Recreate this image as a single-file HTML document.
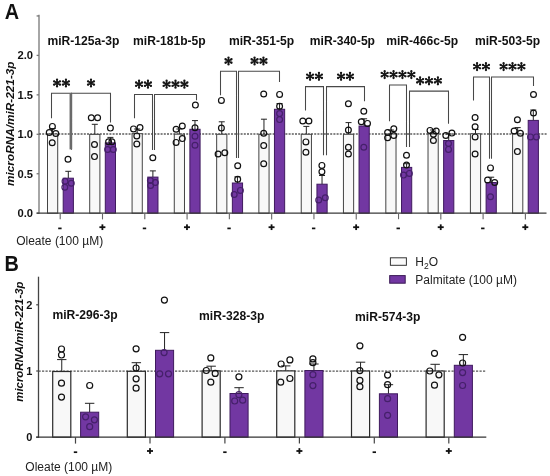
<!DOCTYPE html>
<html><head><meta charset="utf-8"><style>
html,body{margin:0;padding:0;background:#fff;width:550px;height:476px;overflow:hidden;}
svg{display:block;filter:blur(0.3px);font-family:"Liberation Sans",sans-serif;}
</style></head><body>
<svg width="550" height="476" viewBox="0 0 550 476" font-family="Liberation Sans, sans-serif">
<rect width="550" height="476" fill="#fff"/>
<text x="5.22" y="18.9" font-size="21.6" font-weight="bold" text-anchor="start"  fill="#111" transform="scale(0.92,1)">A</text>
<line x1="39" y1="14.8" x2="39" y2="213.8" stroke="#888" stroke-width="1.5" />
<line x1="36.6" y1="213.2" x2="39" y2="213.2" stroke="#777" stroke-width="1.3" />
<line x1="36.6" y1="173.75" x2="39" y2="173.75" stroke="#777" stroke-width="1.3" />
<line x1="36.6" y1="134.3" x2="39" y2="134.3" stroke="#777" stroke-width="1.3" />
<line x1="36.6" y1="94.85" x2="39" y2="94.85" stroke="#777" stroke-width="1.3" />
<line x1="36.6" y1="55.4" x2="39" y2="55.4" stroke="#777" stroke-width="1.3" />
<line x1="36.6" y1="15.95" x2="39" y2="15.95" stroke="#777" stroke-width="1.3" />
<text x="33" y="217.15" font-size="11.2" font-weight="bold" text-anchor="end"  fill="#111" >0.0</text>
<text x="33" y="177.7" font-size="11.2" font-weight="bold" text-anchor="end"  fill="#111" >0.5</text>
<text x="33" y="138.25" font-size="11.2" font-weight="bold" text-anchor="end"  fill="#111" >1.0</text>
<text x="33" y="98.8" font-size="11.2" font-weight="bold" text-anchor="end"  fill="#111" >1.5</text>
<text x="33" y="59.35" font-size="11.2" font-weight="bold" text-anchor="end"  fill="#111" >2.0</text>
<text x="0" y="0" font-size="11.8" font-weight="bold" text-anchor="middle" font-style="italic" fill="#111" transform="translate(14,123.7) rotate(-90)">microRNA/miR-221-3p</text>
<line x1="39" y1="134" x2="547.5" y2="134" stroke="#5c5c5c" stroke-width="1.5" stroke-dasharray="2 1.2"/>
<line x1="52.6" y1="134" x2="52.6" y2="128.5" stroke="#222" stroke-width="1" />
<line x1="49.6" y1="128.5" x2="55.6" y2="128.5" stroke="#222" stroke-width="1" />
<rect x="47.5" y="134" width="10.2" height="79.2" fill="#f8f8f8" stroke="#444" stroke-width="1"/>
<circle cx="52.4" cy="126.4" r="2.9" fill="none" stroke="#111" stroke-width="1.2"/>
<circle cx="49.25" cy="132.5" r="2.9" fill="none" stroke="#111" stroke-width="1.2"/>
<circle cx="55.8" cy="133.5" r="2.9" fill="none" stroke="#111" stroke-width="1.2"/>
<circle cx="52.2" cy="142.7" r="2.9" fill="none" stroke="#111" stroke-width="1.2"/>
<line x1="68.3" y1="178.2" x2="68.3" y2="171.3" stroke="#222" stroke-width="1" />
<line x1="65.3" y1="171.3" x2="71.3" y2="171.3" stroke="#222" stroke-width="1" />
<rect x="63.2" y="178.2" width="10.2" height="35" fill="#7237a2" stroke="#3f1a5e" stroke-width="1"/>
<circle cx="68" cy="159.3" r="2.9" fill="none" stroke="#111" stroke-width="1.2"/>
<circle cx="65" cy="181.3" r="2.9" fill="none" stroke="#45206a" stroke-width="1.2"/>
<circle cx="71.3" cy="183.3" r="2.9" fill="none" stroke="#45206a" stroke-width="1.2"/>
<circle cx="64.8" cy="187.2" r="2.9" fill="none" stroke="#45206a" stroke-width="1.2"/>
<line x1="94.8" y1="134.4" x2="94.8" y2="124.3" stroke="#222" stroke-width="1" />
<line x1="91.8" y1="124.3" x2="97.8" y2="124.3" stroke="#222" stroke-width="1" />
<rect x="89.7" y="134.4" width="10.2" height="78.8" fill="#f8f8f8" stroke="#444" stroke-width="1"/>
<circle cx="91.3" cy="117.7" r="2.9" fill="none" stroke="#111" stroke-width="1.2"/>
<circle cx="97.6" cy="117.7" r="2.9" fill="none" stroke="#111" stroke-width="1.2"/>
<circle cx="94.5" cy="144.5" r="2.9" fill="none" stroke="#111" stroke-width="1.2"/>
<circle cx="94.5" cy="156.6" r="2.9" fill="none" stroke="#111" stroke-width="1.2"/>
<line x1="110.4" y1="142.9" x2="110.4" y2="137.4" stroke="#222" stroke-width="1" />
<line x1="107.4" y1="137.4" x2="113.4" y2="137.4" stroke="#222" stroke-width="1" />
<rect x="105.3" y="142.9" width="10.2" height="70.3" fill="#7237a2" stroke="#3f1a5e" stroke-width="1"/>
<circle cx="110.4" cy="128.1" r="2.9" fill="none" stroke="#111" stroke-width="1.2"/>
<circle cx="108.6" cy="141.7" r="2.9" fill="none" stroke="#111" stroke-width="1.2"/>
<circle cx="111.9" cy="141.7" r="2.9" fill="none" stroke="#111" stroke-width="1.2"/>
<circle cx="107.6" cy="149.5" r="2.9" fill="none" stroke="#45206a" stroke-width="1.2"/>
<circle cx="113.3" cy="149.5" r="2.9" fill="none" stroke="#45206a" stroke-width="1.2"/>
<line x1="137.18" y1="133.7" x2="137.18" y2="129" stroke="#222" stroke-width="1" />
<line x1="134.18" y1="129" x2="140.18" y2="129" stroke="#222" stroke-width="1" />
<rect x="132.08" y="133.7" width="10.2" height="79.5" fill="#f8f8f8" stroke="#444" stroke-width="1"/>
<circle cx="133.5" cy="128.9" r="2.9" fill="none" stroke="#111" stroke-width="1.2"/>
<circle cx="140" cy="127.6" r="2.9" fill="none" stroke="#111" stroke-width="1.2"/>
<circle cx="136.8" cy="135.9" r="2.9" fill="none" stroke="#111" stroke-width="1.2"/>
<circle cx="136.8" cy="144" r="2.9" fill="none" stroke="#111" stroke-width="1.2"/>
<line x1="152.88" y1="177.1" x2="152.88" y2="170.9" stroke="#222" stroke-width="1" />
<line x1="149.88" y1="170.9" x2="155.88" y2="170.9" stroke="#222" stroke-width="1" />
<rect x="147.78" y="177.1" width="10.2" height="36.1" fill="#7237a2" stroke="#3f1a5e" stroke-width="1"/>
<circle cx="152.8" cy="157.8" r="2.9" fill="none" stroke="#111" stroke-width="1.2"/>
<circle cx="150.4" cy="180.5" r="2.9" fill="none" stroke="#45206a" stroke-width="1.2"/>
<circle cx="155.3" cy="182.5" r="2.9" fill="none" stroke="#45206a" stroke-width="1.2"/>
<circle cx="150.6" cy="185.5" r="2.9" fill="none" stroke="#45206a" stroke-width="1.2"/>
<line x1="179.38" y1="134.2" x2="179.38" y2="129" stroke="#222" stroke-width="1" />
<line x1="176.38" y1="129" x2="182.38" y2="129" stroke="#222" stroke-width="1" />
<rect x="174.28" y="134.2" width="10.2" height="79" fill="#f8f8f8" stroke="#444" stroke-width="1"/>
<circle cx="176.1" cy="129.3" r="2.9" fill="none" stroke="#111" stroke-width="1.2"/>
<circle cx="182.3" cy="126" r="2.9" fill="none" stroke="#111" stroke-width="1.2"/>
<circle cx="182.3" cy="138.6" r="2.9" fill="none" stroke="#111" stroke-width="1.2"/>
<circle cx="176.1" cy="142.4" r="2.9" fill="none" stroke="#111" stroke-width="1.2"/>
<line x1="194.98" y1="129.3" x2="194.98" y2="120.6" stroke="#222" stroke-width="1" />
<line x1="191.98" y1="120.6" x2="197.98" y2="120.6" stroke="#222" stroke-width="1" />
<rect x="189.88" y="129.3" width="10.2" height="83.9" fill="#7237a2" stroke="#3f1a5e" stroke-width="1"/>
<circle cx="195.4" cy="105.1" r="2.9" fill="none" stroke="#111" stroke-width="1.2"/>
<circle cx="195" cy="127.7" r="2.9" fill="none" stroke="#111" stroke-width="1.2"/>
<circle cx="195" cy="136.2" r="2.9" fill="none" stroke="#45206a" stroke-width="1.2"/>
<circle cx="195" cy="145.2" r="2.9" fill="none" stroke="#45206a" stroke-width="1.2"/>
<line x1="221.76" y1="134.3" x2="221.76" y2="121.8" stroke="#222" stroke-width="1" />
<line x1="218.76" y1="121.8" x2="224.76" y2="121.8" stroke="#222" stroke-width="1" />
<rect x="216.66" y="134.3" width="10.2" height="78.9" fill="#f8f8f8" stroke="#444" stroke-width="1"/>
<circle cx="221.4" cy="100.4" r="2.9" fill="none" stroke="#111" stroke-width="1.2"/>
<circle cx="221.4" cy="128.1" r="2.9" fill="none" stroke="#111" stroke-width="1.2"/>
<circle cx="218.1" cy="154" r="2.9" fill="none" stroke="#111" stroke-width="1.2"/>
<circle cx="224.8" cy="152.8" r="2.9" fill="none" stroke="#111" stroke-width="1.2"/>
<line x1="237.46" y1="183" x2="237.46" y2="176.8" stroke="#222" stroke-width="1" />
<line x1="234.46" y1="176.8" x2="240.46" y2="176.8" stroke="#222" stroke-width="1" />
<rect x="232.36" y="183" width="10.2" height="30.2" fill="#7237a2" stroke="#3f1a5e" stroke-width="1"/>
<circle cx="237.7" cy="165.7" r="2.9" fill="none" stroke="#111" stroke-width="1.2"/>
<circle cx="237.7" cy="179.2" r="2.9" fill="none" stroke="#111" stroke-width="1.2"/>
<circle cx="234.2" cy="194.5" r="2.9" fill="none" stroke="#45206a" stroke-width="1.2"/>
<circle cx="240.4" cy="190.4" r="2.9" fill="none" stroke="#45206a" stroke-width="1.2"/>
<line x1="263.96" y1="134.3" x2="263.96" y2="119.2" stroke="#222" stroke-width="1" />
<line x1="260.96" y1="119.2" x2="266.96" y2="119.2" stroke="#222" stroke-width="1" />
<rect x="258.86" y="134.3" width="10.2" height="78.9" fill="#f8f8f8" stroke="#444" stroke-width="1"/>
<circle cx="263.7" cy="94" r="2.9" fill="none" stroke="#111" stroke-width="1.2"/>
<circle cx="263.7" cy="133.2" r="2.9" fill="none" stroke="#111" stroke-width="1.2"/>
<circle cx="263.7" cy="145.6" r="2.9" fill="none" stroke="#111" stroke-width="1.2"/>
<circle cx="263.7" cy="163.7" r="2.9" fill="none" stroke="#111" stroke-width="1.2"/>
<line x1="279.56" y1="109.3" x2="279.56" y2="103.5" stroke="#222" stroke-width="1" />
<line x1="276.56" y1="103.5" x2="282.56" y2="103.5" stroke="#222" stroke-width="1" />
<rect x="274.46" y="109.3" width="10.2" height="103.9" fill="#7237a2" stroke="#3f1a5e" stroke-width="1"/>
<circle cx="279.6" cy="94.4" r="2.9" fill="none" stroke="#111" stroke-width="1.2"/>
<circle cx="279.6" cy="106.2" r="2.9" fill="none" stroke="#111" stroke-width="1.2"/>
<circle cx="279.6" cy="113.6" r="2.9" fill="none" stroke="#45206a" stroke-width="1.2"/>
<circle cx="279.6" cy="119.6" r="2.9" fill="none" stroke="#45206a" stroke-width="1.2"/>
<line x1="306.34" y1="134.3" x2="306.34" y2="126.4" stroke="#222" stroke-width="1" />
<line x1="303.34" y1="126.4" x2="309.34" y2="126.4" stroke="#222" stroke-width="1" />
<rect x="301.24" y="134.3" width="10.2" height="78.9" fill="#f8f8f8" stroke="#444" stroke-width="1"/>
<circle cx="302.8" cy="121" r="2.9" fill="none" stroke="#111" stroke-width="1.2"/>
<circle cx="308.9" cy="121" r="2.9" fill="none" stroke="#111" stroke-width="1.2"/>
<circle cx="305.9" cy="141.9" r="2.9" fill="none" stroke="#111" stroke-width="1.2"/>
<circle cx="305.9" cy="152.3" r="2.9" fill="none" stroke="#111" stroke-width="1.2"/>
<line x1="322.04" y1="184.2" x2="322.04" y2="175.5" stroke="#222" stroke-width="1" />
<line x1="319.04" y1="175.5" x2="325.04" y2="175.5" stroke="#222" stroke-width="1" />
<rect x="316.94" y="184.2" width="10.2" height="29" fill="#7237a2" stroke="#3f1a5e" stroke-width="1"/>
<circle cx="321.9" cy="165.4" r="2.9" fill="none" stroke="#111" stroke-width="1.2"/>
<circle cx="321.9" cy="171.7" r="2.9" fill="none" stroke="#111" stroke-width="1.2"/>
<circle cx="318.7" cy="200" r="2.9" fill="none" stroke="#45206a" stroke-width="1.2"/>
<circle cx="325.3" cy="197.8" r="2.9" fill="none" stroke="#45206a" stroke-width="1.2"/>
<line x1="348.54" y1="134.3" x2="348.54" y2="122.6" stroke="#222" stroke-width="1" />
<line x1="345.54" y1="122.6" x2="351.54" y2="122.6" stroke="#222" stroke-width="1" />
<rect x="343.44" y="134.3" width="10.2" height="78.9" fill="#f8f8f8" stroke="#444" stroke-width="1"/>
<circle cx="348.4" cy="103.7" r="2.9" fill="none" stroke="#111" stroke-width="1.2"/>
<circle cx="348.4" cy="130.1" r="2.9" fill="none" stroke="#111" stroke-width="1.2"/>
<circle cx="348.4" cy="147.2" r="2.9" fill="none" stroke="#111" stroke-width="1.2"/>
<circle cx="348.4" cy="154" r="2.9" fill="none" stroke="#111" stroke-width="1.2"/>
<line x1="364.14" y1="126" x2="364.14" y2="118.8" stroke="#222" stroke-width="1" />
<line x1="361.14" y1="118.8" x2="367.14" y2="118.8" stroke="#222" stroke-width="1" />
<rect x="359.04" y="126" width="10.2" height="87.2" fill="#7237a2" stroke="#3f1a5e" stroke-width="1"/>
<circle cx="363.8" cy="111.2" r="2.9" fill="none" stroke="#111" stroke-width="1.2"/>
<circle cx="361.3" cy="121.7" r="2.9" fill="none" stroke="#111" stroke-width="1.2"/>
<circle cx="367.5" cy="123.4" r="2.9" fill="none" stroke="#111" stroke-width="1.2"/>
<circle cx="363.8" cy="147.2" r="2.9" fill="none" stroke="#45206a" stroke-width="1.2"/>
<line x1="390.92" y1="134" x2="390.92" y2="130" stroke="#222" stroke-width="1" />
<line x1="387.92" y1="130" x2="393.92" y2="130" stroke="#222" stroke-width="1" />
<rect x="385.82" y="134" width="10.2" height="79.2" fill="#f8f8f8" stroke="#444" stroke-width="1"/>
<circle cx="387.6" cy="132.6" r="2.9" fill="none" stroke="#111" stroke-width="1.2"/>
<circle cx="393.8" cy="128.8" r="2.9" fill="none" stroke="#111" stroke-width="1.2"/>
<circle cx="387.6" cy="137.7" r="2.9" fill="none" stroke="#111" stroke-width="1.2"/>
<circle cx="393.8" cy="135.5" r="2.9" fill="none" stroke="#111" stroke-width="1.2"/>
<line x1="406.62" y1="167.4" x2="406.62" y2="163.7" stroke="#222" stroke-width="1" />
<line x1="403.62" y1="163.7" x2="409.62" y2="163.7" stroke="#222" stroke-width="1" />
<rect x="401.52" y="167.4" width="10.2" height="45.8" fill="#7237a2" stroke="#3f1a5e" stroke-width="1"/>
<circle cx="406.5" cy="155.3" r="2.9" fill="none" stroke="#111" stroke-width="1.2"/>
<circle cx="406.5" cy="165" r="2.9" fill="none" stroke="#111" stroke-width="1.2"/>
<circle cx="403.5" cy="175.1" r="2.9" fill="none" stroke="#45206a" stroke-width="1.2"/>
<circle cx="409.4" cy="173.4" r="2.9" fill="none" stroke="#45206a" stroke-width="1.2"/>
<line x1="433.12" y1="134" x2="433.12" y2="130" stroke="#222" stroke-width="1" />
<line x1="430.12" y1="130" x2="436.12" y2="130" stroke="#222" stroke-width="1" />
<rect x="428.02" y="134" width="10.2" height="79.2" fill="#f8f8f8" stroke="#444" stroke-width="1"/>
<circle cx="430" cy="130.4" r="2.9" fill="none" stroke="#111" stroke-width="1.2"/>
<circle cx="436.2" cy="131" r="2.9" fill="none" stroke="#111" stroke-width="1.2"/>
<circle cx="433.4" cy="134.3" r="2.9" fill="none" stroke="#111" stroke-width="1.2"/>
<circle cx="433.4" cy="140.5" r="2.9" fill="none" stroke="#111" stroke-width="1.2"/>
<line x1="448.72" y1="140.5" x2="448.72" y2="134" stroke="#222" stroke-width="1" />
<line x1="445.72" y1="134" x2="451.72" y2="134" stroke="#222" stroke-width="1" />
<rect x="443.62" y="140.5" width="10.2" height="72.7" fill="#7237a2" stroke="#3f1a5e" stroke-width="1"/>
<circle cx="445.8" cy="135.5" r="2.9" fill="none" stroke="#111" stroke-width="1.2"/>
<circle cx="451.9" cy="133.1" r="2.9" fill="none" stroke="#111" stroke-width="1.2"/>
<circle cx="448.5" cy="143.5" r="2.9" fill="none" stroke="#45206a" stroke-width="1.2"/>
<circle cx="448.5" cy="149.4" r="2.9" fill="none" stroke="#45206a" stroke-width="1.2"/>
<line x1="475.5" y1="133.8" x2="475.5" y2="129.5" stroke="#222" stroke-width="1" />
<line x1="472.5" y1="129.5" x2="478.5" y2="129.5" stroke="#222" stroke-width="1" />
<rect x="470.4" y="133.8" width="10.2" height="79.4" fill="#f8f8f8" stroke="#444" stroke-width="1"/>
<circle cx="475.1" cy="117.6" r="2.9" fill="none" stroke="#111" stroke-width="1.2"/>
<circle cx="475.1" cy="126.8" r="2.9" fill="none" stroke="#111" stroke-width="1.2"/>
<circle cx="475.1" cy="136.9" r="2.9" fill="none" stroke="#111" stroke-width="1.2"/>
<circle cx="475.1" cy="154" r="2.9" fill="none" stroke="#111" stroke-width="1.2"/>
<line x1="491.2" y1="182.5" x2="491.2" y2="177.2" stroke="#222" stroke-width="1" />
<line x1="488.2" y1="177.2" x2="494.2" y2="177.2" stroke="#222" stroke-width="1" />
<rect x="486.1" y="182.5" width="10.2" height="30.7" fill="#7237a2" stroke="#3f1a5e" stroke-width="1"/>
<circle cx="490.5" cy="167.9" r="2.9" fill="none" stroke="#111" stroke-width="1.2"/>
<circle cx="487.6" cy="180" r="2.9" fill="none" stroke="#111" stroke-width="1.2"/>
<circle cx="494.7" cy="182.5" r="2.9" fill="none" stroke="#111" stroke-width="1.2"/>
<circle cx="490.5" cy="196.8" r="2.9" fill="none" stroke="#45206a" stroke-width="1.2"/>
<line x1="517.7" y1="134" x2="517.7" y2="127.6" stroke="#222" stroke-width="1" />
<line x1="514.7" y1="127.6" x2="520.7" y2="127.6" stroke="#222" stroke-width="1" />
<rect x="512.6" y="134" width="10.2" height="79.2" fill="#f8f8f8" stroke="#444" stroke-width="1"/>
<circle cx="517.4" cy="119.7" r="2.9" fill="none" stroke="#111" stroke-width="1.2"/>
<circle cx="514.1" cy="131" r="2.9" fill="none" stroke="#111" stroke-width="1.2"/>
<circle cx="520.4" cy="133.2" r="2.9" fill="none" stroke="#111" stroke-width="1.2"/>
<circle cx="517.4" cy="151.6" r="2.9" fill="none" stroke="#111" stroke-width="1.2"/>
<line x1="533.3" y1="120.4" x2="533.3" y2="110" stroke="#222" stroke-width="1" />
<line x1="530.3" y1="110" x2="536.3" y2="110" stroke="#222" stroke-width="1" />
<rect x="528.2" y="120.4" width="10.2" height="92.8" fill="#7237a2" stroke="#3f1a5e" stroke-width="1"/>
<circle cx="533.5" cy="94.5" r="2.9" fill="none" stroke="#111" stroke-width="1.2"/>
<circle cx="533.5" cy="113" r="2.9" fill="none" stroke="#111" stroke-width="1.2"/>
<circle cx="530.5" cy="136.9" r="2.9" fill="none" stroke="#45206a" stroke-width="1.2"/>
<circle cx="536.4" cy="136.9" r="2.9" fill="none" stroke="#45206a" stroke-width="1.2"/>
<line x1="36.6" y1="213.2" x2="546.5" y2="213.2" stroke="#3a3a3a" stroke-width="1.2" />
<line x1="60.2" y1="213.2" x2="60.2" y2="219.2" stroke="#666" stroke-width="1.1" />
<line x1="102.5" y1="213.2" x2="102.5" y2="219.4" stroke="#666" stroke-width="1.1" />
<rect x="58.2" y="227.55" width="3.4" height="1.7" fill="#111"/>
<rect x="99.4" y="226.3" width="6" height="1.8" fill="#111"/>
<rect x="101.5" y="224.35" width="1.8" height="5.7" fill="#111"/>
<line x1="144.78" y1="213.2" x2="144.78" y2="219.2" stroke="#666" stroke-width="1.1" />
<line x1="187.08" y1="213.2" x2="187.08" y2="219.4" stroke="#666" stroke-width="1.1" />
<rect x="142.78" y="227.55" width="3.4" height="1.7" fill="#111"/>
<rect x="183.98" y="226.3" width="6" height="1.8" fill="#111"/>
<rect x="186.08" y="224.35" width="1.8" height="5.7" fill="#111"/>
<line x1="229.36" y1="213.2" x2="229.36" y2="219.2" stroke="#666" stroke-width="1.1" />
<line x1="271.66" y1="213.2" x2="271.66" y2="219.4" stroke="#666" stroke-width="1.1" />
<rect x="227.36" y="227.55" width="3.4" height="1.7" fill="#111"/>
<rect x="268.56" y="226.3" width="6" height="1.8" fill="#111"/>
<rect x="270.66" y="224.35" width="1.8" height="5.7" fill="#111"/>
<line x1="313.94" y1="213.2" x2="313.94" y2="219.2" stroke="#666" stroke-width="1.1" />
<line x1="356.24" y1="213.2" x2="356.24" y2="219.4" stroke="#666" stroke-width="1.1" />
<rect x="311.94" y="227.55" width="3.4" height="1.7" fill="#111"/>
<rect x="353.14" y="226.3" width="6" height="1.8" fill="#111"/>
<rect x="355.24" y="224.35" width="1.8" height="5.7" fill="#111"/>
<line x1="398.52" y1="213.2" x2="398.52" y2="219.2" stroke="#666" stroke-width="1.1" />
<line x1="440.82" y1="213.2" x2="440.82" y2="219.4" stroke="#666" stroke-width="1.1" />
<rect x="396.52" y="227.55" width="3.4" height="1.7" fill="#111"/>
<rect x="437.72" y="226.3" width="6" height="1.8" fill="#111"/>
<rect x="439.82" y="224.35" width="1.8" height="5.7" fill="#111"/>
<line x1="483.1" y1="213.2" x2="483.1" y2="219.2" stroke="#666" stroke-width="1.1" />
<line x1="525.4" y1="213.2" x2="525.4" y2="219.4" stroke="#666" stroke-width="1.1" />
<rect x="481.1" y="227.55" width="3.4" height="1.7" fill="#111"/>
<rect x="522.3" y="226.3" width="6" height="1.8" fill="#111"/>
<rect x="524.4" y="224.35" width="1.8" height="5.7" fill="#111"/>
<text x="16.2" y="245.4" font-size="12" font-weight="normal" text-anchor="start"  fill="#222" >Oleate (100 µM)</text>
<text x="47.4" y="44.6" font-size="12.1" font-weight="bold" text-anchor="start"  fill="#111" >miR-125a-3p</text>
<text x="133.1" y="44.6" font-size="12.1" font-weight="bold" text-anchor="start"  fill="#111" >miR-181b-5p</text>
<text x="229" y="44.6" font-size="12.1" font-weight="bold" text-anchor="start"  fill="#111" >miR-351-5p</text>
<text x="309.8" y="44.6" font-size="12.1" font-weight="bold" text-anchor="start"  fill="#111" >miR-340-5p</text>
<text x="386.2" y="44.6" font-size="12.1" font-weight="bold" text-anchor="start"  fill="#111" >miR-466c-5p</text>
<text x="475" y="44.6" font-size="12.1" font-weight="bold" text-anchor="start"  fill="#111" >miR-503-5p</text>
<polyline points="51.5,118.2 51.5,93.3 71.5,93.3 71.5,149.4" fill="none" stroke="#484848" stroke-width="1.05"/>
<polyline points="71.5,149.4 71.5,93.3 110.5,93.3 110.5,122.4" fill="none" stroke="#484848" stroke-width="1.05"/>
<line x1="70.85" y1="93.3" x2="70.85" y2="149.4" stroke="#6a6a6a" stroke-width="2.6" />
<g fill="#151515"><path d="M57.05 79.55L57.05 86.45M54.06 81.28L60.04 84.72M60.04 81.28L54.06 84.72" stroke="#151515" stroke-width="1.6" fill="none"/><circle cx="57.05" cy="79.55" r="1.15"/><circle cx="57.05" cy="86.45" r="1.15"/><circle cx="54.06" cy="81.28" r="1.15"/><circle cx="60.04" cy="84.72" r="1.15"/><circle cx="60.04" cy="81.28" r="1.15"/><circle cx="54.06" cy="84.72" r="1.15"/></g>
<g fill="#151515"><path d="M65.95 79.55L65.95 86.45M62.96 81.28L68.94 84.72M68.94 81.28L62.96 84.72" stroke="#151515" stroke-width="1.6" fill="none"/><circle cx="65.95" cy="79.55" r="1.15"/><circle cx="65.95" cy="86.45" r="1.15"/><circle cx="62.96" cy="81.28" r="1.15"/><circle cx="68.94" cy="84.72" r="1.15"/><circle cx="68.94" cy="81.28" r="1.15"/><circle cx="62.96" cy="84.72" r="1.15"/></g>
<g fill="#151515"><path d="M91 79.55L91 86.45M88.01 81.28L93.99 84.72M93.99 81.28L88.01 84.72" stroke="#151515" stroke-width="1.6" fill="none"/><circle cx="91" cy="79.55" r="1.15"/><circle cx="91" cy="86.45" r="1.15"/><circle cx="88.01" cy="81.28" r="1.15"/><circle cx="93.99" cy="84.72" r="1.15"/><circle cx="93.99" cy="81.28" r="1.15"/><circle cx="88.01" cy="84.72" r="1.15"/></g>
<polyline points="134.5,118.2 134.5,94.5 152.5,94.5 152.5,150.1" fill="none" stroke="#484848" stroke-width="1.05"/>
<polyline points="154.5,150.1 154.5,94.5 196.5,94.5 196.5,100.2" fill="none" stroke="#484848" stroke-width="1.05"/>
<g fill="#151515"><path d="M139.05 80.75L139.05 87.65M136.06 82.48L142.04 85.92M142.04 82.48L136.06 85.92" stroke="#151515" stroke-width="1.6" fill="none"/><circle cx="139.05" cy="80.75" r="1.15"/><circle cx="139.05" cy="87.65" r="1.15"/><circle cx="136.06" cy="82.48" r="1.15"/><circle cx="142.04" cy="85.92" r="1.15"/><circle cx="142.04" cy="82.48" r="1.15"/><circle cx="136.06" cy="85.92" r="1.15"/></g>
<g fill="#151515"><path d="M147.95 80.75L147.95 87.65M144.96 82.48L150.94 85.92M150.94 82.48L144.96 85.92" stroke="#151515" stroke-width="1.6" fill="none"/><circle cx="147.95" cy="80.75" r="1.15"/><circle cx="147.95" cy="87.65" r="1.15"/><circle cx="144.96" cy="82.48" r="1.15"/><circle cx="150.94" cy="85.92" r="1.15"/><circle cx="150.94" cy="82.48" r="1.15"/><circle cx="144.96" cy="85.92" r="1.15"/></g>
<g fill="#151515"><path d="M166.6 80.75L166.6 87.65M163.61 82.48L169.59 85.92M169.59 82.48L163.61 85.92" stroke="#151515" stroke-width="1.6" fill="none"/><circle cx="166.6" cy="80.75" r="1.15"/><circle cx="166.6" cy="87.65" r="1.15"/><circle cx="163.61" cy="82.48" r="1.15"/><circle cx="169.59" cy="85.92" r="1.15"/><circle cx="169.59" cy="82.48" r="1.15"/><circle cx="163.61" cy="85.92" r="1.15"/></g>
<g fill="#151515"><path d="M175.5 80.75L175.5 87.65M172.51 82.48L178.49 85.92M178.49 82.48L172.51 85.92" stroke="#151515" stroke-width="1.6" fill="none"/><circle cx="175.5" cy="80.75" r="1.15"/><circle cx="175.5" cy="87.65" r="1.15"/><circle cx="172.51" cy="82.48" r="1.15"/><circle cx="178.49" cy="85.92" r="1.15"/><circle cx="178.49" cy="82.48" r="1.15"/><circle cx="172.51" cy="85.92" r="1.15"/></g>
<g fill="#151515"><path d="M184.4 80.75L184.4 87.65M181.41 82.48L187.39 85.92M187.39 82.48L181.41 85.92" stroke="#151515" stroke-width="1.6" fill="none"/><circle cx="184.4" cy="80.75" r="1.15"/><circle cx="184.4" cy="87.65" r="1.15"/><circle cx="181.41" cy="82.48" r="1.15"/><circle cx="187.39" cy="85.92" r="1.15"/><circle cx="187.39" cy="82.48" r="1.15"/><circle cx="181.41" cy="85.92" r="1.15"/></g>
<polyline points="220.5,95.3 220.5,71.3 236.5,71.3 236.5,157.9" fill="none" stroke="#484848" stroke-width="1.05"/>
<polyline points="238.5,157.9 238.5,71.3 279.5,71.3 279.5,81.9" fill="none" stroke="#484848" stroke-width="1.05"/>
<g fill="#151515"><path d="M228.5 57.55L228.5 64.45M225.51 59.27L231.49 62.73M231.49 59.27L225.51 62.73" stroke="#151515" stroke-width="1.6" fill="none"/><circle cx="228.5" cy="57.55" r="1.15"/><circle cx="228.5" cy="64.45" r="1.15"/><circle cx="225.51" cy="59.27" r="1.15"/><circle cx="231.49" cy="62.73" r="1.15"/><circle cx="231.49" cy="59.27" r="1.15"/><circle cx="225.51" cy="62.73" r="1.15"/></g>
<g fill="#151515"><path d="M254.55 57.55L254.55 64.45M251.56 59.27L257.54 62.73M257.54 59.27L251.56 62.73" stroke="#151515" stroke-width="1.6" fill="none"/><circle cx="254.55" cy="57.55" r="1.15"/><circle cx="254.55" cy="64.45" r="1.15"/><circle cx="251.56" cy="59.27" r="1.15"/><circle cx="257.54" cy="62.73" r="1.15"/><circle cx="257.54" cy="59.27" r="1.15"/><circle cx="251.56" cy="62.73" r="1.15"/></g>
<g fill="#151515"><path d="M263.45 57.55L263.45 64.45M260.46 59.27L266.44 62.73M266.44 59.27L260.46 62.73" stroke="#151515" stroke-width="1.6" fill="none"/><circle cx="263.45" cy="57.55" r="1.15"/><circle cx="263.45" cy="64.45" r="1.15"/><circle cx="260.46" cy="59.27" r="1.15"/><circle cx="266.44" cy="62.73" r="1.15"/><circle cx="266.44" cy="59.27" r="1.15"/><circle cx="260.46" cy="62.73" r="1.15"/></g>
<polyline points="305.5,110.4 305.5,86.6 323.5,86.6 323.5,155.3" fill="none" stroke="#484848" stroke-width="1.05"/>
<polyline points="326.5,155.3 326.5,86.6 364.5,86.6 364.5,101.2" fill="none" stroke="#484848" stroke-width="1.05"/>
<g fill="#151515"><path d="M310.05 72.85L310.05 79.75M307.06 74.58L313.04 78.02M313.04 74.58L307.06 78.02" stroke="#151515" stroke-width="1.6" fill="none"/><circle cx="310.05" cy="72.85" r="1.15"/><circle cx="310.05" cy="79.75" r="1.15"/><circle cx="307.06" cy="74.58" r="1.15"/><circle cx="313.04" cy="78.02" r="1.15"/><circle cx="313.04" cy="74.58" r="1.15"/><circle cx="307.06" cy="78.02" r="1.15"/></g>
<g fill="#151515"><path d="M318.95 72.85L318.95 79.75M315.96 74.58L321.94 78.02M321.94 74.58L315.96 78.02" stroke="#151515" stroke-width="1.6" fill="none"/><circle cx="318.95" cy="72.85" r="1.15"/><circle cx="318.95" cy="79.75" r="1.15"/><circle cx="315.96" cy="74.58" r="1.15"/><circle cx="321.94" cy="78.02" r="1.15"/><circle cx="321.94" cy="74.58" r="1.15"/><circle cx="315.96" cy="78.02" r="1.15"/></g>
<g fill="#151515"><path d="M341.05 72.85L341.05 79.75M338.06 74.58L344.04 78.02M344.04 74.58L338.06 78.02" stroke="#151515" stroke-width="1.6" fill="none"/><circle cx="341.05" cy="72.85" r="1.15"/><circle cx="341.05" cy="79.75" r="1.15"/><circle cx="338.06" cy="74.58" r="1.15"/><circle cx="344.04" cy="78.02" r="1.15"/><circle cx="344.04" cy="74.58" r="1.15"/><circle cx="338.06" cy="78.02" r="1.15"/></g>
<g fill="#151515"><path d="M349.95 72.85L349.95 79.75M346.96 74.58L352.94 78.02M352.94 74.58L346.96 78.02" stroke="#151515" stroke-width="1.6" fill="none"/><circle cx="349.95" cy="72.85" r="1.15"/><circle cx="349.95" cy="79.75" r="1.15"/><circle cx="346.96" cy="74.58" r="1.15"/><circle cx="352.94" cy="78.02" r="1.15"/><circle cx="352.94" cy="74.58" r="1.15"/><circle cx="346.96" cy="78.02" r="1.15"/></g>
<polyline points="389.5,121.3 389.5,84.9 406.5,84.9 406.5,146.9" fill="none" stroke="#484848" stroke-width="1.05"/>
<polyline points="409.5,146.9 409.5,91.1 448.5,91.1 448.5,123.8" fill="none" stroke="#484848" stroke-width="1.05"/>
<g fill="#151515"><path d="M384.65 71.15L384.65 78.05M381.66 72.88L387.64 76.33M387.64 72.88L381.66 76.33" stroke="#151515" stroke-width="1.6" fill="none"/><circle cx="384.65" cy="71.15" r="1.15"/><circle cx="384.65" cy="78.05" r="1.15"/><circle cx="381.66" cy="72.88" r="1.15"/><circle cx="387.64" cy="76.33" r="1.15"/><circle cx="387.64" cy="72.88" r="1.15"/><circle cx="381.66" cy="76.33" r="1.15"/></g>
<g fill="#151515"><path d="M393.55 71.15L393.55 78.05M390.56 72.88L396.54 76.33M396.54 72.88L390.56 76.33" stroke="#151515" stroke-width="1.6" fill="none"/><circle cx="393.55" cy="71.15" r="1.15"/><circle cx="393.55" cy="78.05" r="1.15"/><circle cx="390.56" cy="72.88" r="1.15"/><circle cx="396.54" cy="76.33" r="1.15"/><circle cx="396.54" cy="72.88" r="1.15"/><circle cx="390.56" cy="76.33" r="1.15"/></g>
<g fill="#151515"><path d="M402.45 71.15L402.45 78.05M399.46 72.88L405.44 76.33M405.44 72.88L399.46 76.33" stroke="#151515" stroke-width="1.6" fill="none"/><circle cx="402.45" cy="71.15" r="1.15"/><circle cx="402.45" cy="78.05" r="1.15"/><circle cx="399.46" cy="72.88" r="1.15"/><circle cx="405.44" cy="76.33" r="1.15"/><circle cx="405.44" cy="72.88" r="1.15"/><circle cx="399.46" cy="76.33" r="1.15"/></g>
<g fill="#151515"><path d="M411.35 71.15L411.35 78.05M408.36 72.88L414.34 76.33M414.34 72.88L408.36 76.33" stroke="#151515" stroke-width="1.6" fill="none"/><circle cx="411.35" cy="71.15" r="1.15"/><circle cx="411.35" cy="78.05" r="1.15"/><circle cx="408.36" cy="72.88" r="1.15"/><circle cx="414.34" cy="76.33" r="1.15"/><circle cx="414.34" cy="72.88" r="1.15"/><circle cx="408.36" cy="76.33" r="1.15"/></g>
<g fill="#151515"><path d="M420.1 77.35L420.1 84.25M417.11 79.08L423.09 82.52M423.09 79.08L417.11 82.52" stroke="#151515" stroke-width="1.6" fill="none"/><circle cx="420.1" cy="77.35" r="1.15"/><circle cx="420.1" cy="84.25" r="1.15"/><circle cx="417.11" cy="79.08" r="1.15"/><circle cx="423.09" cy="82.52" r="1.15"/><circle cx="423.09" cy="79.08" r="1.15"/><circle cx="417.11" cy="82.52" r="1.15"/></g>
<g fill="#151515"><path d="M429 77.35L429 84.25M426.01 79.08L431.99 82.52M431.99 79.08L426.01 82.52" stroke="#151515" stroke-width="1.6" fill="none"/><circle cx="429" cy="77.35" r="1.15"/><circle cx="429" cy="84.25" r="1.15"/><circle cx="426.01" cy="79.08" r="1.15"/><circle cx="431.99" cy="82.52" r="1.15"/><circle cx="431.99" cy="79.08" r="1.15"/><circle cx="426.01" cy="82.52" r="1.15"/></g>
<g fill="#151515"><path d="M437.9 77.35L437.9 84.25M434.91 79.08L440.89 82.52M440.89 79.08L434.91 82.52" stroke="#151515" stroke-width="1.6" fill="none"/><circle cx="437.9" cy="77.35" r="1.15"/><circle cx="437.9" cy="84.25" r="1.15"/><circle cx="434.91" cy="79.08" r="1.15"/><circle cx="440.89" cy="82.52" r="1.15"/><circle cx="440.89" cy="79.08" r="1.15"/><circle cx="434.91" cy="82.52" r="1.15"/></g>
<polyline points="473.5,100.4 473.5,76.9 489.5,76.9 489.5,158.7" fill="none" stroke="#484848" stroke-width="1.05"/>
<polyline points="491.5,158.7 491.5,76.9 533.5,76.9 533.5,86.1" fill="none" stroke="#484848" stroke-width="1.05"/>
<g fill="#151515"><path d="M477.05 63.15L477.05 70.05M474.06 64.88L480.04 68.33M480.04 64.88L474.06 68.33" stroke="#151515" stroke-width="1.6" fill="none"/><circle cx="477.05" cy="63.15" r="1.15"/><circle cx="477.05" cy="70.05" r="1.15"/><circle cx="474.06" cy="64.88" r="1.15"/><circle cx="480.04" cy="68.33" r="1.15"/><circle cx="480.04" cy="64.88" r="1.15"/><circle cx="474.06" cy="68.33" r="1.15"/></g>
<g fill="#151515"><path d="M485.95 63.15L485.95 70.05M482.96 64.88L488.94 68.33M488.94 64.88L482.96 68.33" stroke="#151515" stroke-width="1.6" fill="none"/><circle cx="485.95" cy="63.15" r="1.15"/><circle cx="485.95" cy="70.05" r="1.15"/><circle cx="482.96" cy="64.88" r="1.15"/><circle cx="488.94" cy="68.33" r="1.15"/><circle cx="488.94" cy="64.88" r="1.15"/><circle cx="482.96" cy="68.33" r="1.15"/></g>
<g fill="#151515"><path d="M503.6 63.15L503.6 70.05M500.61 64.88L506.59 68.33M506.59 64.88L500.61 68.33" stroke="#151515" stroke-width="1.6" fill="none"/><circle cx="503.6" cy="63.15" r="1.15"/><circle cx="503.6" cy="70.05" r="1.15"/><circle cx="500.61" cy="64.88" r="1.15"/><circle cx="506.59" cy="68.33" r="1.15"/><circle cx="506.59" cy="64.88" r="1.15"/><circle cx="500.61" cy="68.33" r="1.15"/></g>
<g fill="#151515"><path d="M512.5 63.15L512.5 70.05M509.51 64.88L515.49 68.33M515.49 64.88L509.51 68.33" stroke="#151515" stroke-width="1.6" fill="none"/><circle cx="512.5" cy="63.15" r="1.15"/><circle cx="512.5" cy="70.05" r="1.15"/><circle cx="509.51" cy="64.88" r="1.15"/><circle cx="515.49" cy="68.33" r="1.15"/><circle cx="515.49" cy="64.88" r="1.15"/><circle cx="509.51" cy="68.33" r="1.15"/></g>
<g fill="#151515"><path d="M521.4 63.15L521.4 70.05M518.41 64.88L524.39 68.33M524.39 64.88L518.41 68.33" stroke="#151515" stroke-width="1.6" fill="none"/><circle cx="521.4" cy="63.15" r="1.15"/><circle cx="521.4" cy="70.05" r="1.15"/><circle cx="518.41" cy="64.88" r="1.15"/><circle cx="524.39" cy="68.33" r="1.15"/><circle cx="524.39" cy="64.88" r="1.15"/><circle cx="518.41" cy="68.33" r="1.15"/></g>
<text x="5" y="271.3" font-size="21.6" font-weight="bold" text-anchor="start"  fill="#111" transform="scale(0.92,1)">B</text>
<line x1="38.5" y1="276.7" x2="38.5" y2="437.8" stroke="#444" stroke-width="1.3" />
<line x1="36.2" y1="437.2" x2="38.5" y2="437.2" stroke="#444" stroke-width="1.2" />
<text x="32.3" y="441.2" font-size="11" font-weight="bold" text-anchor="end"  fill="#111" >0</text>
<line x1="36.2" y1="371" x2="38.5" y2="371" stroke="#444" stroke-width="1.2" />
<text x="32.3" y="375" font-size="11" font-weight="bold" text-anchor="end"  fill="#111" >1</text>
<line x1="36.2" y1="304.8" x2="38.5" y2="304.8" stroke="#444" stroke-width="1.2" />
<text x="32.3" y="308.8" font-size="11" font-weight="bold" text-anchor="end"  fill="#111" >2</text>
<text x="0" y="0" font-size="11.4" font-weight="bold" text-anchor="middle" font-style="italic" fill="#111" transform="translate(23.4,341.6) rotate(-90)">microRNA/miR-221-3p</text>
<line x1="38.5" y1="371.1" x2="486.5" y2="371.1" stroke="#555" stroke-width="1.3" stroke-dasharray="2.2 1.3"/>
<line x1="61.75" y1="371.5" x2="61.75" y2="359.6" stroke="#222" stroke-width="1" />
<line x1="57.05" y1="359.6" x2="66.45" y2="359.6" stroke="#222" stroke-width="1" />
<rect x="52.7" y="371.5" width="18.1" height="65.7" fill="#f8f8f8" stroke="#2a2a2a" stroke-width="1.2"/>
<circle cx="61.5" cy="349" r="3.0" fill="none" stroke="#111" stroke-width="1.2"/>
<circle cx="61.5" cy="355" r="3.0" fill="none" stroke="#111" stroke-width="1.2"/>
<circle cx="61.5" cy="383.2" r="3.0" fill="none" stroke="#111" stroke-width="1.2"/>
<circle cx="61.5" cy="397.1" r="3.0" fill="none" stroke="#111" stroke-width="1.2"/>
<line x1="89.65" y1="412.2" x2="89.65" y2="403.3" stroke="#222" stroke-width="1" />
<line x1="84.95" y1="403.3" x2="94.35" y2="403.3" stroke="#222" stroke-width="1" />
<rect x="80.6" y="412.2" width="18.1" height="25" fill="#7237a2" stroke="#3f1a5e" stroke-width="1"/>
<circle cx="89.7" cy="385.5" r="3.0" fill="none" stroke="#111" stroke-width="1.2"/>
<circle cx="85.6" cy="416.8" r="3.0" fill="none" stroke="#45206a" stroke-width="1.2"/>
<circle cx="94.4" cy="419.8" r="3.0" fill="none" stroke="#45206a" stroke-width="1.2"/>
<circle cx="89.7" cy="426.7" r="3.0" fill="none" stroke="#45206a" stroke-width="1.2"/>
<line x1="136.35" y1="371.3" x2="136.35" y2="362.7" stroke="#222" stroke-width="1" />
<line x1="131.65" y1="362.7" x2="141.05" y2="362.7" stroke="#222" stroke-width="1" />
<rect x="127.3" y="371.3" width="18.1" height="65.9" fill="#f8f8f8" stroke="#2a2a2a" stroke-width="1.2"/>
<circle cx="136.1" cy="348.8" r="3.0" fill="none" stroke="#111" stroke-width="1.2"/>
<circle cx="136.1" cy="368" r="3.0" fill="none" stroke="#111" stroke-width="1.2"/>
<circle cx="136.1" cy="378.8" r="3.0" fill="none" stroke="#111" stroke-width="1.2"/>
<circle cx="136.1" cy="388.2" r="3.0" fill="none" stroke="#111" stroke-width="1.2"/>
<line x1="164.55" y1="350.3" x2="164.55" y2="332.6" stroke="#222" stroke-width="1" />
<line x1="159.85" y1="332.6" x2="169.25" y2="332.6" stroke="#222" stroke-width="1" />
<rect x="155.5" y="350.3" width="18.1" height="86.9" fill="#7237a2" stroke="#3f1a5e" stroke-width="1"/>
<circle cx="164.4" cy="300.1" r="3.0" fill="none" stroke="#111" stroke-width="1.2"/>
<circle cx="164.1" cy="352.6" r="3.0" fill="none" stroke="#45206a" stroke-width="1.2"/>
<circle cx="159.7" cy="373.8" r="3.0" fill="none" stroke="#45206a" stroke-width="1.2"/>
<circle cx="168.5" cy="373.8" r="3.0" fill="none" stroke="#45206a" stroke-width="1.2"/>
<line x1="211.15" y1="370.9" x2="211.15" y2="366.2" stroke="#222" stroke-width="1" />
<line x1="206.45" y1="366.2" x2="215.85" y2="366.2" stroke="#222" stroke-width="1" />
<rect x="202.1" y="370.9" width="18.1" height="66.3" fill="#f8f8f8" stroke="#2a2a2a" stroke-width="1.2"/>
<circle cx="210.8" cy="357.9" r="3.0" fill="none" stroke="#111" stroke-width="1.2"/>
<circle cx="206.3" cy="370.5" r="3.0" fill="none" stroke="#111" stroke-width="1.2"/>
<circle cx="215.2" cy="373.4" r="3.0" fill="none" stroke="#111" stroke-width="1.2"/>
<circle cx="210.8" cy="382.2" r="3.0" fill="none" stroke="#111" stroke-width="1.2"/>
<line x1="239.05" y1="393.5" x2="239.05" y2="387.7" stroke="#222" stroke-width="1" />
<line x1="234.35" y1="387.7" x2="243.75" y2="387.7" stroke="#222" stroke-width="1" />
<rect x="230" y="393.5" width="18.1" height="43.7" fill="#7237a2" stroke="#3f1a5e" stroke-width="1"/>
<circle cx="238.9" cy="376.8" r="3.0" fill="none" stroke="#111" stroke-width="1.2"/>
<circle cx="238.9" cy="394.7" r="3.0" fill="none" stroke="#45206a" stroke-width="1.2"/>
<circle cx="234.7" cy="401" r="3.0" fill="none" stroke="#45206a" stroke-width="1.2"/>
<circle cx="242.7" cy="400.2" r="3.0" fill="none" stroke="#45206a" stroke-width="1.2"/>
<line x1="285.75" y1="370.9" x2="285.75" y2="365.9" stroke="#222" stroke-width="1" />
<line x1="281.05" y1="365.9" x2="290.45" y2="365.9" stroke="#222" stroke-width="1" />
<rect x="276.7" y="370.9" width="18.1" height="66.3" fill="#f8f8f8" stroke="#2a2a2a" stroke-width="1.2"/>
<circle cx="281.1" cy="364" r="3.0" fill="none" stroke="#111" stroke-width="1.2"/>
<circle cx="289.9" cy="359.9" r="3.0" fill="none" stroke="#111" stroke-width="1.2"/>
<circle cx="280.7" cy="382.2" r="3.0" fill="none" stroke="#111" stroke-width="1.2"/>
<circle cx="289.9" cy="378.5" r="3.0" fill="none" stroke="#111" stroke-width="1.2"/>
<line x1="313.95" y1="370.5" x2="313.95" y2="364" stroke="#222" stroke-width="1" />
<line x1="309.25" y1="364" x2="318.65" y2="364" stroke="#222" stroke-width="1" />
<rect x="304.9" y="370.5" width="18.1" height="66.7" fill="#7237a2" stroke="#3f1a5e" stroke-width="1"/>
<circle cx="312.9" cy="358.9" r="3.0" fill="none" stroke="#111" stroke-width="1.2"/>
<circle cx="312.9" cy="362.7" r="3.0" fill="none" stroke="#111" stroke-width="1.2"/>
<circle cx="312.9" cy="374.7" r="3.0" fill="none" stroke="#45206a" stroke-width="1.2"/>
<circle cx="312.9" cy="385.6" r="3.0" fill="none" stroke="#45206a" stroke-width="1.2"/>
<line x1="360.55" y1="371" x2="360.55" y2="362.2" stroke="#222" stroke-width="1" />
<line x1="355.85" y1="362.2" x2="365.25" y2="362.2" stroke="#222" stroke-width="1" />
<rect x="351.5" y="371" width="18.1" height="66.2" fill="#f8f8f8" stroke="#2a2a2a" stroke-width="1.2"/>
<circle cx="359.9" cy="345.8" r="3.0" fill="none" stroke="#111" stroke-width="1.2"/>
<circle cx="359.9" cy="370.6" r="3.0" fill="none" stroke="#111" stroke-width="1.2"/>
<circle cx="359.9" cy="380.4" r="3.0" fill="none" stroke="#111" stroke-width="1.2"/>
<circle cx="359.9" cy="386.7" r="3.0" fill="none" stroke="#111" stroke-width="1.2"/>
<line x1="388.45" y1="393.8" x2="388.45" y2="384.7" stroke="#222" stroke-width="1" />
<line x1="383.75" y1="384.7" x2="393.15" y2="384.7" stroke="#222" stroke-width="1" />
<rect x="379.4" y="393.8" width="18.1" height="43.4" fill="#7237a2" stroke="#3f1a5e" stroke-width="1"/>
<circle cx="387.6" cy="375.1" r="3.0" fill="none" stroke="#111" stroke-width="1.2"/>
<circle cx="387.6" cy="384.7" r="3.0" fill="none" stroke="#111" stroke-width="1.2"/>
<circle cx="387.6" cy="398.7" r="3.0" fill="none" stroke="#45206a" stroke-width="1.2"/>
<circle cx="387.6" cy="415.3" r="3.0" fill="none" stroke="#45206a" stroke-width="1.2"/>
<line x1="435.15" y1="371" x2="435.15" y2="364.3" stroke="#222" stroke-width="1" />
<line x1="430.45" y1="364.3" x2="439.85" y2="364.3" stroke="#222" stroke-width="1" />
<rect x="426.1" y="371" width="18.1" height="66.2" fill="#f8f8f8" stroke="#2a2a2a" stroke-width="1.2"/>
<circle cx="434.5" cy="353.3" r="3.0" fill="none" stroke="#111" stroke-width="1.2"/>
<circle cx="429.8" cy="371" r="3.0" fill="none" stroke="#111" stroke-width="1.2"/>
<circle cx="438.9" cy="374.8" r="3.0" fill="none" stroke="#111" stroke-width="1.2"/>
<circle cx="434.5" cy="385.2" r="3.0" fill="none" stroke="#111" stroke-width="1.2"/>
<line x1="463.35" y1="365.3" x2="463.35" y2="354.6" stroke="#222" stroke-width="1" />
<line x1="458.65" y1="354.6" x2="468.05" y2="354.6" stroke="#222" stroke-width="1" />
<rect x="454.3" y="365.3" width="18.1" height="71.9" fill="#7237a2" stroke="#3f1a5e" stroke-width="1"/>
<circle cx="462.6" cy="337.3" r="3.0" fill="none" stroke="#111" stroke-width="1.2"/>
<circle cx="462.6" cy="363" r="3.0" fill="none" stroke="#111" stroke-width="1.2"/>
<circle cx="462.6" cy="372.6" r="3.0" fill="none" stroke="#45206a" stroke-width="1.2"/>
<circle cx="462.6" cy="385.5" r="3.0" fill="none" stroke="#45206a" stroke-width="1.2"/>
<line x1="36.2" y1="437.2" x2="486.3" y2="437.2" stroke="#333" stroke-width="1.3" />
<line x1="75.5" y1="437.2" x2="75.5" y2="443.6" stroke="#444" stroke-width="1.2" />
<line x1="150" y1="437.2" x2="150" y2="443.5" stroke="#444" stroke-width="1.2" />
<rect x="73.8" y="451.35" width="3.4" height="1.7" fill="#111"/>
<rect x="147" y="450.1" width="6" height="1.8" fill="#111"/>
<rect x="149.1" y="448.15" width="1.8" height="5.7" fill="#111"/>
<line x1="224.9" y1="437.2" x2="224.9" y2="443.6" stroke="#444" stroke-width="1.2" />
<line x1="299.4" y1="437.2" x2="299.4" y2="443.5" stroke="#444" stroke-width="1.2" />
<rect x="223.2" y="451.35" width="3.4" height="1.7" fill="#111"/>
<rect x="296.4" y="450.1" width="6" height="1.8" fill="#111"/>
<rect x="298.5" y="448.15" width="1.8" height="5.7" fill="#111"/>
<line x1="374.3" y1="437.2" x2="374.3" y2="443.6" stroke="#444" stroke-width="1.2" />
<line x1="448.8" y1="437.2" x2="448.8" y2="443.5" stroke="#444" stroke-width="1.2" />
<rect x="372.6" y="451.35" width="3.4" height="1.7" fill="#111"/>
<rect x="445.8" y="450.1" width="6" height="1.8" fill="#111"/>
<rect x="447.9" y="448.15" width="1.8" height="5.7" fill="#111"/>
<text x="25.3" y="471" font-size="12" font-weight="normal" text-anchor="start"  fill="#222" >Oleate (100 µM)</text>
<text x="52.4" y="319.1" font-size="12.1" font-weight="bold" text-anchor="start"  fill="#111" >miR-296-3p</text>
<text x="199.1" y="319.6" font-size="12.1" font-weight="bold" text-anchor="start"  fill="#111" >miR-328-3p</text>
<text x="355.1" y="321.3" font-size="12.1" font-weight="bold" text-anchor="start"  fill="#111" >miR-574-3p</text>
<rect x="390.4" y="257.8" width="16" height="7.5" fill="#fafafa" stroke="#333" stroke-width="1"/>
<rect x="389.7" y="275.6" width="15.5" height="7.6" fill="#7237a2" stroke="#3a1a55" stroke-width="1"/>
<text x="415.3" y="265.6" font-size="12" fill="#222">H<tspan font-size="8.5" dy="3.2">2</tspan><tspan dy="-3.2">O</tspan></text>
<text x="415.3" y="284" font-size="12" font-weight="normal" text-anchor="start"  fill="#222" >Palmitate (100 µM)</text>
</svg>
</body></html>
